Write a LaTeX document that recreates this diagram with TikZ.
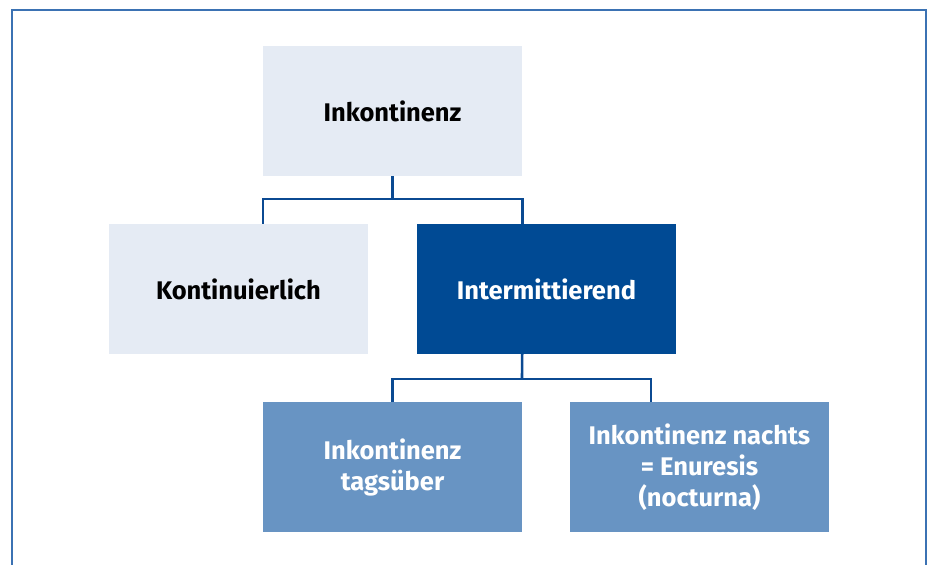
\documentclass[tikz,border=0pt]{standalone}
\usepackage{fontspec}
\setmainfont{Fira Sans}
\definecolor{boxlight}{HTML}{E5EBF4}
\definecolor{boxdark}{HTML}{004A94}
\definecolor{boxmid}{HTML}{6894C3}
\definecolor{framecol}{HTML}{3B72B3}
\definecolor{linecol}{HTML}{0B4A92}
\begin{document}
\begin{tikzpicture}[x=1pt, y=-1pt,
    catbox/.style={rectangle, minimum width=259pt, minimum height=130pt, inner sep=0pt,
        align=center, font=\fontsize{25.5}{31}\selectfont\bfseries},
    lightbox/.style={catbox, fill=boxlight, text=black},
    darkbox/.style={catbox, fill=boxdark, text=white},
    midbox/.style={catbox, fill=boxmid, text=white},
    tree/.style={draw=linecol, line width=2.6pt}]
    \useasboundingbox (0,0) rectangle (930,565);

    % Frame (open at the bottom)
    \draw[framecol, line width=2pt] (12,565) -- (12,10) -- (925.5,10) -- (925.5,565);

    % Boxes
    \node[lightbox] (inkont) at (392.5,111) {Inkontinenz};
    \node[lightbox] (kontin) at (238.5,289) {Kontinuierlich};
    \node[darkbox] (interm) at (546.5,289) {Intermittierend};
    \node[midbox] (tags) at (392.5,467) {Inkontinenz\\tagsüber};
    \node[midbox] (nachts) at (699.5,467) {Inkontinenz nachts\\= Enuresis\\(nocturna)};

    % Connectors
    \coordinate (fork1) at (392.5,199);
    \coordinate (fork2) at (522,379);
    \draw[tree] (inkont.south) -- (fork1);
    \draw[tree] (inkont.south west |- kontin.north) |- (fork1) -| (inkont.south east |- interm.north);
    \draw[tree] (tags.east |- interm.south) -- (fork2);
    \draw[tree] (tags.north) |- (fork2) -| (651,402);
\end{tikzpicture}
\end{document}
